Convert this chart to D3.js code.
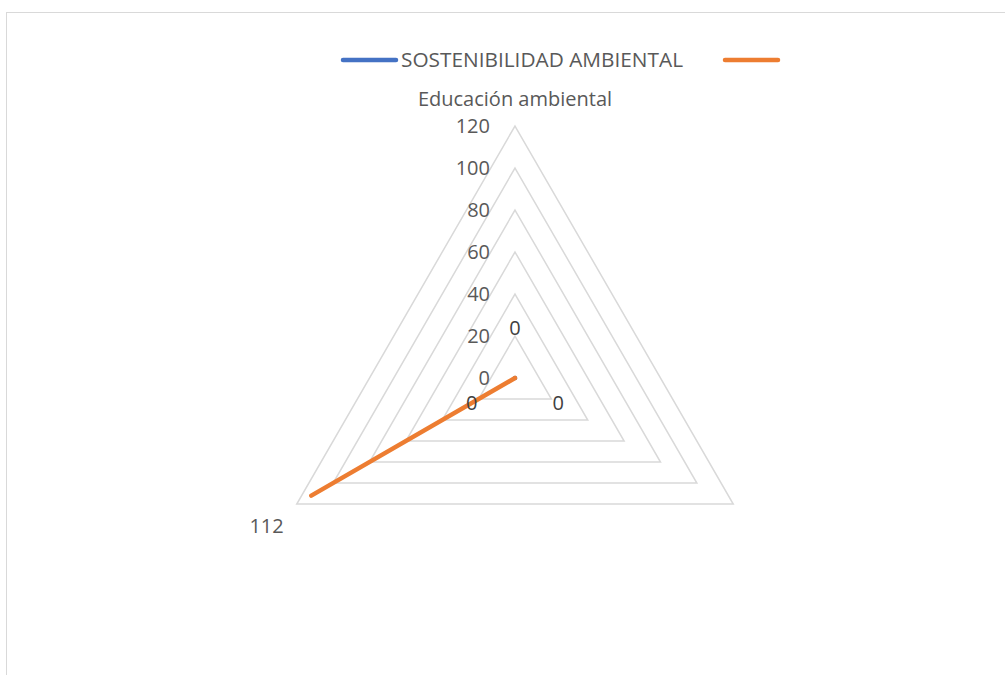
<!DOCTYPE html>
<html><head><meta charset="utf-8">
<script src="https://cdnjs.cloudflare.com/ajax/libs/d3/7.8.5/d3.min.js"></script>
<style>body{margin:0;background:#fff}svg{display:block}text{font-family:"Open Sans","Liberation Sans",Arial,sans-serif}</style>
</head><body><svg id="c" width="1005" height="675"></svg>
<script>
const categories = ["Educación ambiental", "", "112"];
const seriesNames = ["SOSTENIBILIDAD AMBIENTAL", ""];
const blueValues = [0, 0, 0];
const orangeValues = [0, null, 112];
const tickValues = [0, 20, 40, 60, 80, 100, 120];

const svg = d3.select("#c");
const cx = 515, cy = 378, R = 252, fs = 20;
const r = d3.scaleLinear().domain([0, 120]).range([0, R]);
const ang = d3.scaleLinear().domain([0, categories.length]).range([-Math.PI/2, 1.5*Math.PI]);
const pt = (i, v) => [cx + r(v)*Math.cos(ang(i)), cy + r(v)*Math.sin(ang(i))];

svg.append("rect").attr("x",6.5).attr("y",12.5).attr("width",1010).attr("height",680)
  .attr("fill","#fff").attr("stroke","#d9d9d9").attr("stroke-width",1);

// grid
tickValues.filter(t=>t>0).forEach(t=>{
  svg.append("polygon").attr("points", categories.map((c,i)=>pt(i,t).join(",")).join(" "))
    .attr("fill","none").attr("stroke","#d9d9d9").attr("stroke-width",1.5);
});
// tick labels
svg.selectAll(".tick").data(tickValues).join("text")
  .attr("x", cx-25).attr("y", d=>cy - r(d) + 7).attr("text-anchor","end")
  .attr("font-size",fs).attr("fill","#595959").text(d=>d);

// category labels
svg.append("text").attr("x",cx).attr("y",cy - R - 20).attr("text-anchor","middle")
  .attr("font-size",fs).attr("fill","#595959").text(categories[0]);
svg.append("text").attr("x",pt(2,120)[0]-13).attr("y",pt(2,120)[1]+29).attr("text-anchor","end")
  .attr("font-size",fs).attr("fill","#595959").text(categories[2]);
svg.append("text").attr("x",pt(1,120)[0]+13).attr("y",pt(1,120)[1]+29).attr("text-anchor","start")
  .attr("font-size",fs).attr("fill","#595959").text(categories[1]);

// series (gaps for nulls)
const line = d3.line().defined(d=>d.v!=null).x(d=>pt(d.i,d.v)[0]).y(d=>pt(d.i,d.v)[1]);
const oData = orangeValues.map((v,i)=>({i,v})); oData.push({i:0, v:orangeValues[0]});
const bData = blueValues.map((v,i)=>({i,v})); bData.push({i:0, v:blueValues[0]});
svg.append("path").attr("d",line(bData)).attr("fill","none").attr("stroke","#4472C4")
  .attr("stroke-width",4.5).attr("stroke-linecap","round").attr("stroke-linejoin","round");
svg.append("path").attr("d",line(oData)).attr("fill","none").attr("stroke","#ED7D31")
  .attr("stroke-width",4.5).attr("stroke-linecap","round").attr("stroke-linejoin","round");

// data labels for blue series
svg.selectAll(".dl").data(blueValues).join("text")
  .attr("x",(d,i)=>pt(i,d)[0] + 50*Math.cos(ang(i)))
  .attr("y",(d,i)=>pt(i,d)[1] + 50*Math.sin(ang(i)) + 7)
  .attr("text-anchor","middle").attr("font-size",fs).attr("fill","#404040").text(d=>d);

// legend
const ly = 60;
svg.append("line").attr("x1",343).attr("x2",396).attr("y1",ly).attr("y2",ly)
  .attr("stroke","#4472C4").attr("stroke-width",4.5).attr("stroke-linecap","round");
svg.append("text").attr("x",401).attr("y",ly+7).attr("font-size",fs).attr("fill","#595959")
  .attr("textLength",282).attr("lengthAdjust","spacingAndGlyphs").text(seriesNames[0]);
svg.append("line").attr("x1",725).attr("x2",778).attr("y1",ly).attr("y2",ly)
  .attr("stroke","#ED7D31").attr("stroke-width",4.5).attr("stroke-linecap","round");
</script></body></html>
